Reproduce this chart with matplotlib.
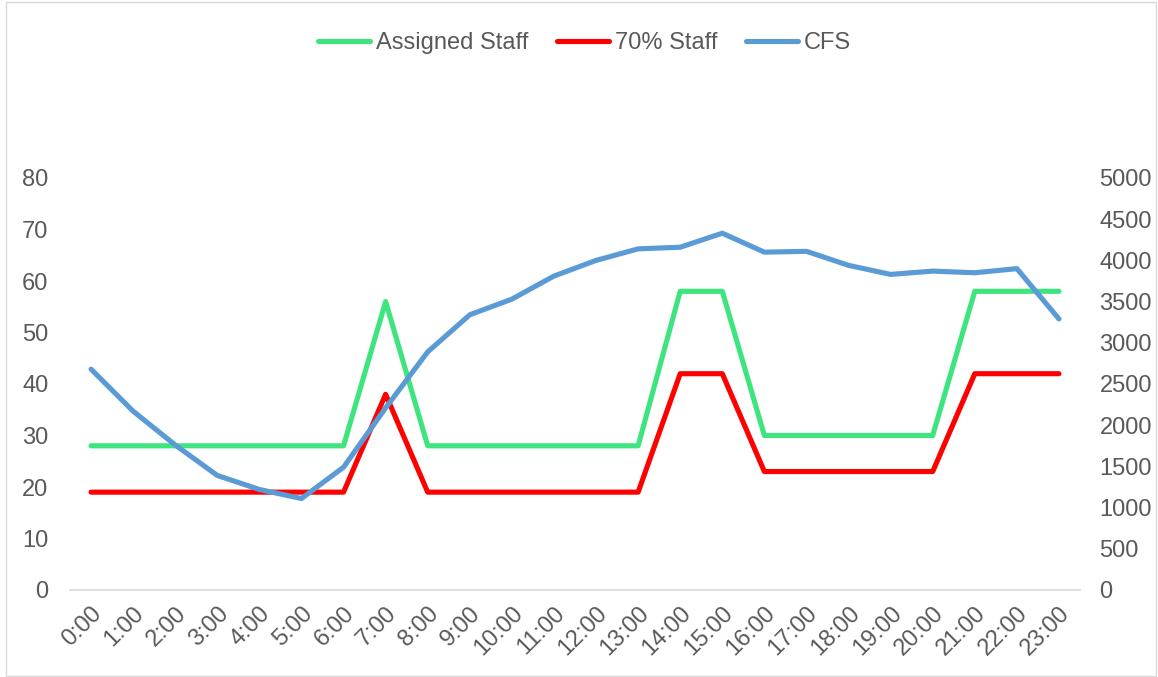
import matplotlib
matplotlib.use("Agg")
import matplotlib.pyplot as plt
from matplotlib.patches import Rectangle
from matplotlib.lines import Line2D

hours = [f"{h}:00" for h in range(24)]
assigned_staff = [28, 28, 28, 28, 28, 28, 28, 56, 28, 28, 28, 28, 28, 28,
                  58, 58, 30, 30, 30, 30, 30, 58, 58, 58]
staff_70 = [19, 19, 19, 19, 19, 19, 19, 38, 19, 19, 19, 19, 19, 19,
            42, 42, 23, 23, 23, 23, 23, 42, 42, 42]
cfs = [2680, 2170, 1760, 1390, 1220, 1110, 1490, 2210, 2890, 3340, 3530, 3810,
       4000, 4140, 4160, 4330, 4100, 4110, 3940, 3830, 3870, 3850, 3900, 3290]

plt.rcParams['font.family'] = ['Liberation Sans', 'DejaVu Sans']
TXT = '#595959'
GREEN = '#3EE57E'
RED = '#FF0000'
BLUE = '#5B9BD5'
FS = 17

fig = plt.figure(figsize=(11.58, 6.77), dpi=100)
ax = fig.add_axes([70/1158, 1-590/677, (1080-70)/1158, (590-178)/677])
ax2 = ax.twinx()

x = list(range(len(hours)))
lw = 3.7
ax.plot(x, assigned_staff, color=GREEN, lw=lw, solid_capstyle='round', solid_joinstyle='round', zorder=3)
ax.plot(x, staff_70, color=RED, lw=lw, solid_capstyle='round', solid_joinstyle='round', zorder=3)
ax2.plot(x, cfs, color=BLUE, lw=lw, solid_capstyle='round', solid_joinstyle='round', zorder=3)

ax.set_xlim(-0.5, 23.5)
ax.set_ylim(0, 80)
ax2.set_ylim(0, 5000)
ax.set_yticks(range(0, 81, 10))
ax2.set_yticks(range(0, 5001, 500))
ax.set_xticks(x)
ax.set_xticklabels(hours, rotation=45, ha='right', rotation_mode='anchor')

for a in (ax, ax2):
    for s in a.spines.values():
        s.set_visible(False)
    a.tick_params(length=0, labelsize=FS, colors=TXT)
ax.spines['bottom'].set_visible(True)
ax.spines['bottom'].set_color('#D9D9D9')
ax.spines['bottom'].set_linewidth(1.2)
ax.tick_params(axis='y', pad=15.5)
ax2.tick_params(axis='y', pad=14)
ax.tick_params(axis='x', pad=9)

handles = [Line2D([], [], color=GREEN, lw=lw, solid_capstyle='round'),
           Line2D([], [], color=RED, lw=lw, solid_capstyle='round'),
           Line2D([], [], color=BLUE, lw=lw, solid_capstyle='round')]
fig.legend(handles, ['Assigned Staff', '70% Staff', 'CFS'], loc='center',
           bbox_to_anchor=(584.5/1158, 1-43/677), ncol=3, frameon=False, fontsize=FS,
           labelcolor=TXT, handlelength=2.2, handletextpad=0.25, columnspacing=1.2)

fig.patches.append(Rectangle((6/1158, 0.002), 1150/1158, 0.995, transform=fig.transFigure,
                             fill=False, edgecolor='#D9D9D9', lw=1))

fig.savefig('out.png', dpi=100)
